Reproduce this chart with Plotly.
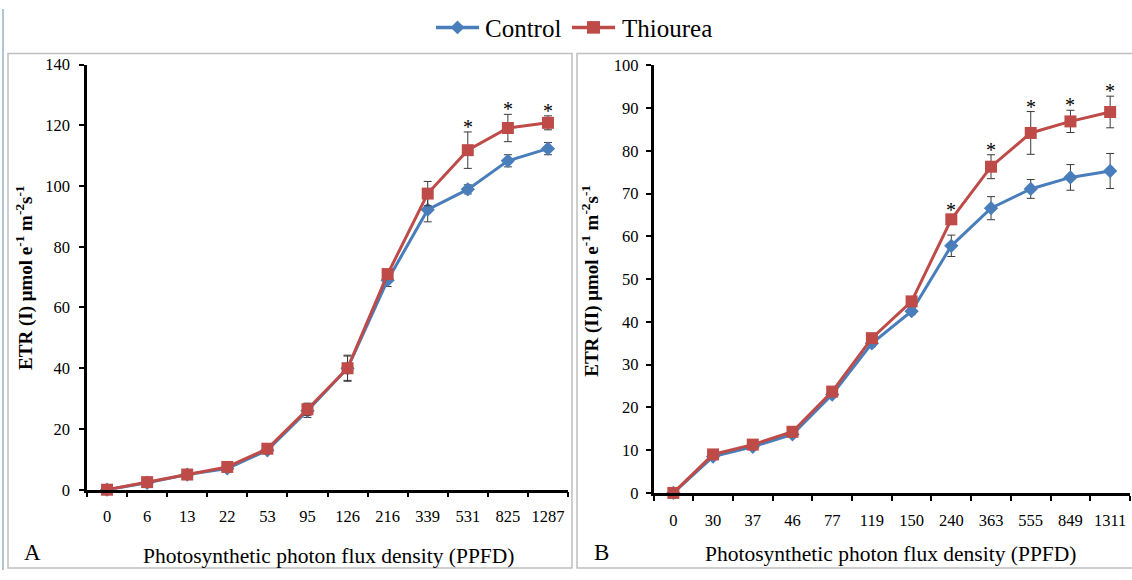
import plotly.graph_objects as go

# Panel A: ETR(I) versus PPFD
ppfd_a = ["0", "6", "13", "22", "53", "95", "126", "216", "339", "531", "825", "1287"]
control_a = [0, 2.3, 5.0, 7.0, 13.0, 26.0, 40.0, 69.0, 92.2, 98.9, 108.3, 112.3]
control_a_err = [0, 0.3, 0.4, 0.5, 0.8, 2.2, 4.0, 2.1, 4.0, 1.5, 2.0, 2.0]
thiourea_a = [0, 2.5, 5.0, 7.5, 13.5, 26.5, 40.0, 71.0, 97.5, 111.8, 119.1, 120.8]
thiourea_a_err = [0, 0.3, 0.4, 0.5, 0.8, 2.0, 4.3, 1.5, 4.0, 6.0, 4.5, 2.3]
signif_a = [False, False, False, False, False, False, False, False, False, True, True, True]

# Panel B: ETR(II) versus PPFD
ppfd_b = ["0", "30", "37", "46", "77", "119", "150", "240", "363", "555", "849", "1311"]
control_b = [0, 8.5, 10.8, 13.7, 23.0, 35.0, 42.5, 57.8, 66.6, 71.1, 73.8, 75.3]
control_b_err = [0, 0.5, 0.5, 0.6, 0.7, 0.8, 0.8, 2.5, 2.7, 2.2, 3.0, 4.1]
thiourea_b = [0, 9.0, 11.3, 14.3, 23.7, 36.2, 44.8, 64.0, 76.3, 84.2, 86.9, 89.1]
thiourea_b_err = [0, 0.5, 0.5, 0.6, 0.7, 0.8, 0.8, 1.0, 2.8, 5.0, 2.6, 3.7]
signif_b = [False, False, False, False, False, False, False, True, True, True, True, True]

series_names = ["Control", "Thiourea"]

W, H = 1132, 580
BLUE = "#4a7ebb"
RED = "#be4b48"
SERIF = "Liberation Serif"


def px(x):
    return x / W


def py(y):
    return (H - y) / H


fig = go.Figure()


def add_series(xcat, vals, errs, name, color, symbol, size, xa, ya):
    fig.add_trace(go.Scatter(
        x=xcat, y=vals, name=name, mode="lines+markers",
        line=dict(color=color, width=3),
        marker=dict(symbol=symbol, size=size, color=color),
        error_y=dict(type="data", array=errs, visible=True,
                     color="#3a3a3a", thickness=1, width=4),
        xaxis=xa, yaxis=ya, showlegend=False, cliponaxis=False,
    ))


add_series(ppfd_a, control_a, control_a_err, series_names[0], BLUE, "diamond", 11, "x", "y")
add_series(ppfd_a, thiourea_a, thiourea_a_err, series_names[1], RED, "square", 12, "x", "y")
add_series(ppfd_b, control_b, control_b_err, series_names[0], BLUE, "diamond", 11, "x2", "y2")
add_series(ppfd_b, thiourea_b, thiourea_b_err, series_names[1], RED, "square", 12, "x2", "y2")

annotations = []
# significance asterisks above the Thiourea error bars (placed by category index)
for vals, errs, sig, xr, yr in [
    (thiourea_a, thiourea_a_err, signif_a, "x", "y"),
    (thiourea_b, thiourea_b_err, signif_b, "x2", "y2"),
]:
    for i, (v, e, s) in enumerate(zip(vals, errs, sig)):
        if s:
            annotations.append(dict(
                x=i, y=v + e, xref=xr, yref=yr, text="*", showarrow=False,
                yanchor="middle", yshift=5,
                font=dict(family=SERIF, size=20, color="black")))

ytitle_a = "ETR (I) μmol e<sup>-1</sup> m<sup>-2</sup>s<sup>-1</sup>"
ytitle_b = "ETR (II) μmol e<sup>-1</sup> m<sup>-2</sup>s<sup>-1</sup>"
xtitle = "Photosynthetic photon flux density (PPFD)"

annotations += [
    dict(x=px(25), y=py(278), xref="paper", yref="paper", text=ytitle_a,
         textangle=-90, showarrow=False, xanchor="center", yanchor="middle",
         font=dict(family=SERIF, size=19, color="black", weight="bold")),
    dict(x=px(591), y=py(281), xref="paper", yref="paper", text=ytitle_b,
         textangle=-90, showarrow=False, xanchor="center", yanchor="middle",
         font=dict(family=SERIF, size=19, color="black", weight="bold")),
    dict(x=px(328), y=py(566), xref="paper", yref="paper", text=xtitle,
         showarrow=False, xanchor="center", yanchor="middle",
         font=dict(family=SERIF, size=21.5, color="black")),
    dict(x=px(890), y=py(563), xref="paper", yref="paper", text=xtitle,
         showarrow=False, xanchor="center", yanchor="middle",
         font=dict(family=SERIF, size=21.5, color="black")),
    dict(x=px(32), y=py(562), xref="paper", yref="paper", text="A",
         showarrow=False, xanchor="center", yanchor="middle",
         font=dict(family=SERIF, size=23, color="black")),
    dict(x=px(601), y=py(562), xref="paper", yref="paper", text="B",
         showarrow=False, xanchor="center", yanchor="middle",
         font=dict(family=SERIF, size=23, color="black")),
]

shapes = [
    # panel frames
    dict(type="rect", xref="paper", yref="paper",
         x0=px(8), x1=px(572), y0=py(578), y1=py(46),
         line=dict(color="#bfbfbf", width=1.5)),
    dict(type="rect", xref="paper", yref="paper",
         x0=px(577), x1=px(1140), y0=py(578), y1=py(46),
         line=dict(color="#bfbfbf", width=1.5)),
    # outer border on the left
    dict(type="line", xref="paper", yref="paper",
         x0=px(3), x1=px(3), y0=0, y1=1,
         line=dict(color="#b4c4d8", width=2)),
]

# legend across the top: line sample, marker and name for each series
LEG_Y = 19
legend_items = [
    (series_names[0], BLUE, "diamond", 436, 479, 483),
    (series_names[1], RED, "square", 572, 615, 620),
]
for name, color, sym, lx0, lx1, tx in legend_items:
    shapes.append(dict(type="line", xref="paper", yref="paper",
                       x0=px(lx0), x1=px(lx1), y0=py(LEG_Y), y1=py(LEG_Y),
                       line=dict(color=color, width=3.5)))
    cx = (lx0 + lx1) / 2
    if sym == "diamond":
        r = 7
        path = (f"M {px(cx)},{py(LEG_Y - r)} L {px(cx + r)},{py(LEG_Y)} "
                f"L {px(cx)},{py(LEG_Y + r)} L {px(cx - r)},{py(LEG_Y)} Z")
        shapes.append(dict(type="path", xref="paper", yref="paper", path=path,
                           fillcolor=color, line=dict(color=color, width=0)))
    else:
        r = 6.5
        shapes.append(dict(type="rect", xref="paper", yref="paper",
                           x0=px(cx - r), x1=px(cx + r),
                           y0=py(LEG_Y + r), y1=py(LEG_Y - r),
                           fillcolor=color, line=dict(color=color, width=0)))
    annotations.append(dict(x=px(tx), y=py(LEG_Y + 1.5), xref="paper", yref="paper",
                            text=name, showarrow=False, xanchor="left",
                            yanchor="middle",
                            font=dict(family=SERIF, size=25, color="black")))

axis_common = dict(showgrid=False, zeroline=False, showline=True,
                   linecolor="black", linewidth=2.5, ticks="outside",
                   tickcolor="black", tickwidth=2, ticklen=5,
                   tickfont=dict(family=SERIF, size=16.5, color="black"))

fig.update_layout(
    width=W, height=H, autosize=False,
    margin=dict(l=0, r=0, t=0, b=0),
    paper_bgcolor="white", plot_bgcolor="white",
    showlegend=False,
    xaxis=dict(domain=[px(87), px(568)], type="category",
               range=[-0.5, 11.5], tickson="boundaries", tickangle=0,
               ticklabelstandoff=10, anchor="y", **axis_common),
    yaxis=dict(domain=[py(497), py(57.4)], range=[0, 140], dtick=20,
               ticklabelstandoff=6, anchor="x", **axis_common),
    xaxis2=dict(domain=[px(653.5), px(1130)], type="category",
                range=[-0.5, 11.5], tickson="boundaries", tickangle=0,
                ticklabelstandoff=11, anchor="y2", **axis_common),
    yaxis2=dict(domain=[py(500.3), py(58.3)], range=[0, 100], dtick=10,
                ticklabelstandoff=4, anchor="x2", **axis_common),
    annotations=annotations,
    shapes=shapes,
)

fig.write_html("out.html")
